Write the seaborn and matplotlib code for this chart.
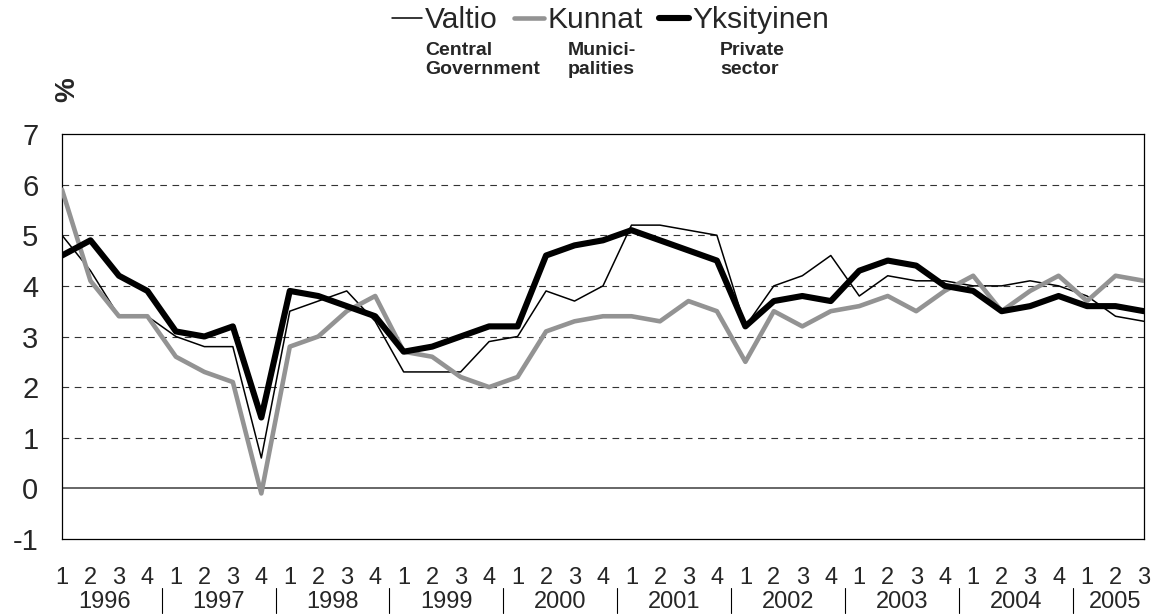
import numpy as np
import pandas as pd
import matplotlib
matplotlib.use("Agg")
import matplotlib.pyplot as plt
import seaborn as sns

# ---- data -------------------------------------------------------------
years = ["1996", "1997", "1998", "1999", "2000", "2001", "2002", "2003", "2004", "2005"]
quarters = ["1", "2", "3", "4"] * 9 + ["1", "2", "3"]

valtio = [5.0, 4.3, 3.4, 3.4, 3.0, 2.8, 2.8, 0.6,
          3.5, 3.7, 3.9, 3.3, 2.3, 2.3, 2.3, 2.9,
          3.0, 3.9, 3.7, 4.0, 5.2, 5.2, 5.1, 5.0,
          3.2, 4.0, 4.2, 4.6, 3.8, 4.2, 4.1, 4.1,
          4.0, 4.0, 4.1, 4.0, 3.8, 3.4, 3.3]
kunnat = [5.9, 4.1, 3.4, 3.4, 2.6, 2.3, 2.1, -0.1,
          2.8, 3.0, 3.5, 3.8, 2.7, 2.6, 2.2, 2.0,
          2.2, 3.1, 3.3, 3.4, 3.4, 3.3, 3.7, 3.5,
          2.5, 3.5, 3.2, 3.5, 3.6, 3.8, 3.5, 3.9,
          4.2, 3.5, 3.9, 4.2, 3.7, 4.2, 4.1]
yksityinen = [4.6, 4.9, 4.2, 3.9, 3.1, 3.0, 3.2, 1.4,
              3.9, 3.8, 3.6, 3.4, 2.7, 2.8, 3.0, 3.2,
              3.2, 4.6, 4.8, 4.9, 5.1, 4.9, 4.7, 4.5,
              3.2, 3.7, 3.8, 3.7, 4.3, 4.5, 4.4, 4.0,
              3.9, 3.5, 3.6, 3.8, 3.6, 3.6, 3.5]

series_names = ["Valtio", "Kunnat", "Yksityinen"]
series_sub = ["Central\nGovernment", "Munici-\npalities", "Private\nsector"]

idx = np.arange(len(quarters))
df = pd.DataFrame({"t": np.tile(idx, 3),
                   "value": valtio + kunnat + yksityinen,
                   "series": np.repeat(series_names, len(idx))})

# ---- style ------------------------------------------------------------
sns.set_style("white")
plt.rcParams["font.family"] = ["Liberation Sans", "DejaVu Sans"]

W, H = 1152, 616
fig = plt.figure(figsize=(W / 100, H / 100), dpi=100)
ax = fig.add_axes([62 / W, 1 - 539 / H, (1144 - 62) / W, (539 - 134) / H])

styles = {
    "Valtio": dict(color="black", linewidth=1.1),
    "Kunnat": dict(color="#939393", linewidth=3.3),
    "Yksityinen": dict(color="black", linewidth=4.4),
}
for name in series_names:
    sub = df[df["series"] == name]
    sns.lineplot(data=sub, x="t", y="value", ax=ax, label=name, zorder=3,
                 **styles[name])

# grid and zero line
for y in range(1, 7):
    ax.axhline(y, color="#333333", linewidth=0.8, linestyle=(0, (6, 5)), zorder=1)
ax.axhline(0, color="#666666", linewidth=1.4, zorder=1)

ax.set_xlim(0, len(quarters) - 1)
ax.set_ylim(-1, 7)
ax.set_yticks(range(-1, 8))
ax.set_yticklabels([str(v) for v in range(-1, 8)], fontsize=21)
ax.tick_params(axis="y", length=0, pad=17)
ax.set_xticks(idx)
ax.set_xticklabels(quarters, fontsize=17)
ax.tick_params(axis="x", direction="out", length=11.5, width=0.8,
               color="#555555", pad=9)
ax.set_xlabel("")
ax.set_ylabel("")
for s in ax.spines.values():
    s.set_visible(True)
    s.set_color("black")
    s.set_linewidth(0.9)

# year labels and separators
xt = ax.get_xaxis_transform()
for k, yr in enumerate(years):
    start = 4 * k
    end = min(4 * k + 3, len(quarters) - 1)
    ax.text((start + end) / 2, -0.128, yr, transform=xt, ha="center", va="top",
            fontsize=17)
    if k > 0:
        ax.plot([start - 0.5, start - 0.5], [-0.122, -0.183], transform=xt,
                color="black", linewidth=0.8, clip_on=False)

# legend
handles, labels = ax.get_legend_handles_labels()
leg = fig.legend(handles, labels, loc="upper left",
                 bbox_to_anchor=(392 / W, 1 - 6 / H), ncol=3, frameon=False,
                 fontsize=21.6, handlelength=1.0, handletextpad=0.1,
                 columnspacing=0.55, borderpad=0, borderaxespad=0)
if ax.get_legend():
    ax.get_legend().remove()

sub_x = [425, 568, 720]
for x, txt in zip(sub_x, series_sub):
    fig.text(x / W, 1 - 42 / H, txt, ha="left", va="top", fontsize=14,
             fontweight="bold", linespacing=1.15)

fig.text(67 / W, 1 - 90 / H, "%", rotation=90, ha="center", va="center",
         fontsize=20, fontweight="bold")

fig.savefig("out.png", dpi=100)
